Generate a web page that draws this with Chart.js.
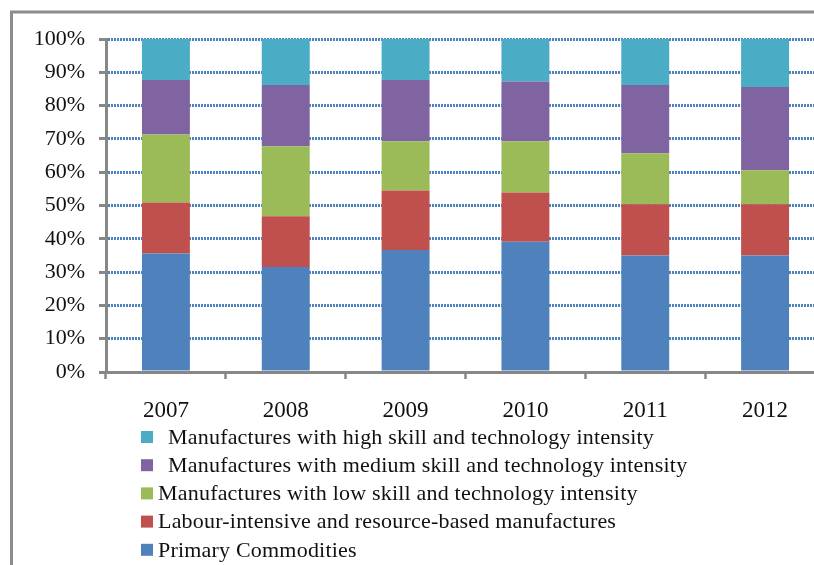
<!DOCTYPE html>
<html>
<head>
<meta charset="utf-8">
<script src="https://cdn.jsdelivr.net/npm/chart.js@4"></script>
<style>
  html, body { margin: 0; padding: 0; background: #fff; overflow: hidden; }
</style>
</head>
<body>
<canvas id="grafico" width="840" height="565"></canvas>
<script>
// DATOS
const years = ["2007", "2008", "2009", "2010", "2011", "2012"];
const yTicks = [0, 10, 20, 30, 40, 50, 60, 70, 80, 90, 100];

const primary   = [35.6, 31.5, 36.6, 39.1, 35.0, 35.0];
const labour    = [15.3, 15.3, 17.9, 14.8, 15.4, 15.4];
const lowSkill  = [20.4, 21.0, 14.8, 15.4, 15.3, 10.2];
const medSkill  = [16.4, 18.4, 18.4, 17.9, 20.5, 25.0];
const highSkill = [12.3, 13.8, 12.3, 12.8, 13.8, 14.4];

const seriesLabels = [
    "Primary Commodities",
    "Labour-intensive and resource-based manufactures",
    "Manufactures with low skill and technology intensity",
    "Manufactures with medium skill and technology intensity",
    "Manufactures with high skill and technology intensity"
];
const seriesColors = ["#4F81BD", "#C0504D", "#9BBB59", "#8064A2", "#4BACC6"];

const serif = "'Liberation Serif', 'Times New Roman', serif";
const gris = "#878787";

// marco exterior + leyenda vertical
const marcoYLeyenda = {
    id: 'marcoYLeyenda',
    beforeDraw(chart) {
        const ctx = chart.ctx;
        ctx.save();
        ctx.strokeStyle = "#8c8c8c";
        ctx.lineWidth = 3;
        ctx.strokeRect(11.5, 12, 1000, 1000);
        ctx.restore();
    },
    afterDraw(chart) {
        const ctx = chart.ctx;
        const sets = chart.data.datasets.slice().reverse();
        ctx.save();
        ctx.font = "22px " + serif;
        ctx.letterSpacing = "0.2px";
        ctx.textBaseline = "middle";
        sets.forEach((ds, i) => {
            const y = 437 + i * 28.2;
            ctx.fillStyle = ds.backgroundColor;
            ctx.fillRect(141, y - 6, 12, 12);
            ctx.fillStyle = "#111";
            ctx.fillText(ds.label, i < 2 ? 168 : 158, y + 1);
        });
        ctx.restore();
    }
};

const valores = [primary, labour, lowSkill, medSkill, highSkill];

new Chart(document.getElementById('grafico'), {
    type: 'bar',
    data: {
        labels: years,
        datasets: valores.map((v, i) => ({
            label: seriesLabels[i],
            data: v,
            backgroundColor: seriesColors[i],
            borderWidth: 0,
            barPercentage: 0.4,
            categoryPercentage: 1.0
        }))
    },
    options: {
        responsive: false,
        devicePixelRatio: 1,
        animation: false,
        layout: { padding: { top: 39, right: 15, bottom: 143, left: 0 } },
        plugins: {
            legend: { display: false },
            tooltip: { enabled: false }
        },
        scales: {
            x: {
                stacked: true,
                afterFit: (s) => { s.height = 50; },
                grid: {
                    drawOnChartArea: false,
                    tickLength: 7,
                    tickColor: gris,
                    tickWidth: 2.5
                },
                border: { color: gris, width: 3 },
                ticks: {
                    color: "#111",
                    padding: 18,
                    font: { family: serif, size: 23 }
                }
            },
            y: {
                stacked: true,
                min: 0,
                max: 100,
                afterFit: (s) => { s.width = 106; },
                afterBuildTicks: (s) => { s.ticks = yTicks.map(v => ({ value: v })); },
                grid: {
                    color: "#4F81BD",
                    lineWidth: 3,
                    tickLength: 7,
                    tickColor: gris,
                    tickWidth: 3
                },
                border: { color: gris, width: 3, dash: [2, 1] },
                ticks: {
                    color: "#111",
                    padding: 14,
                    font: { family: serif, size: 22 },
                    callback: (v) => v + "%"
                }
            }
        }
    },
    plugins: [marcoYLeyenda]
});
</script>
</body>
</html>
